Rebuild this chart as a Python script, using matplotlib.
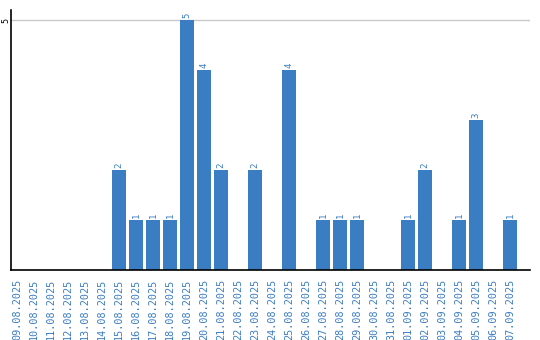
import matplotlib
matplotlib.use("Agg")
import matplotlib.pyplot as plt

dates = ["09.08.2025", "10.08.2025", "11.08.2025", "12.08.2025", "13.08.2025",
         "14.08.2025", "15.08.2025", "16.08.2025", "17.08.2025", "18.08.2025",
         "19.08.2025", "20.08.2025", "21.08.2025", "22.08.2025", "23.08.2025",
         "24.08.2025", "25.08.2025", "26.08.2025", "27.08.2025", "28.08.2025",
         "29.08.2025", "30.08.2025", "31.08.2025", "01.09.2025", "02.09.2025",
         "03.09.2025", "04.09.2025", "05.09.2025", "06.09.2025", "07.09.2025"]
counts = [0, 0, 0, 0, 0, 0, 2, 1, 1, 1, 5, 4, 2, 0, 2, 0, 4, 0, 1, 1, 1, 0, 0, 1, 2, 0, 1, 3, 0, 1]

blue = "#3b7dc3"

fig = plt.figure(figsize=(5.4, 3.4), dpi=100)
ax = fig.add_axes([11 / 540, 70 / 340, 519 / 540, 260 / 340])

x = list(range(len(dates)))
bars = ax.bar(x, counts, width=0.82, color=blue, zorder=2)

for xi, v in zip(x, counts):
    if v > 0:
        ax.text(xi, v + 0.04, str(v), rotation=90, ha="center", va="bottom",
                fontsize=6.5, color=blue, family="DejaVu Sans Mono")

ax.set_xlim(-0.353, 30.18)
ax.set_ylim(0, 5.2)
ax.set_yticks([5])
ax.set_yticklabels(["5"], rotation=90, va="center", fontsize=6, family="DejaVu Sans Mono")
ax.yaxis.grid(True, color="#c8c8c8", linewidth=1, zorder=0)
ax.tick_params(axis="y", length=0, pad=0.5)

ax.set_xticks(x)
ax.set_xticklabels(dates, rotation=90, fontsize=7.3, color=blue, family="DejaVu Sans Mono")
ax.tick_params(axis="x", length=0, pad=6)

for s in ["top", "right"]:
    ax.spines[s].set_visible(False)
ax.spines["left"].set_linewidth(1.2)
ax.spines["bottom"].set_linewidth(1.2)

fig.savefig("out.png", dpi=100)
